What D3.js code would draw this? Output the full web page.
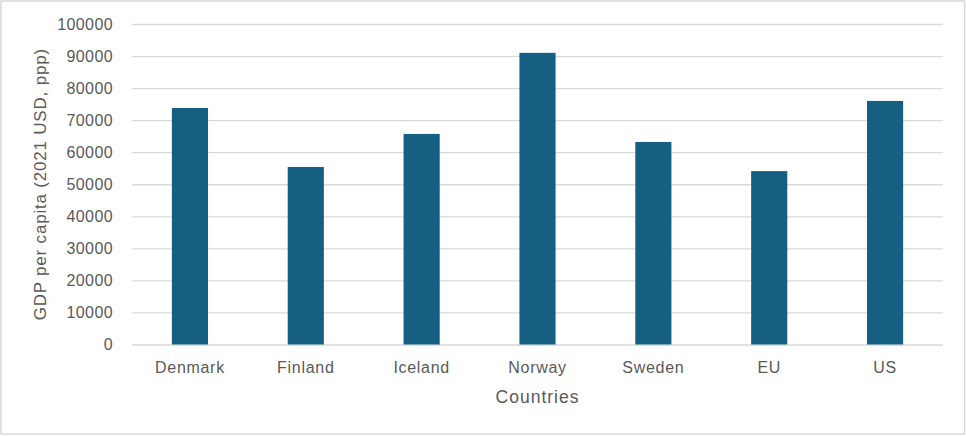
<!DOCTYPE html>
<html>
<head>
<meta charset="utf-8">
<script src="https://cdn.jsdelivr.net/npm/d3@7"></script>
<style>
  html, body { margin: 0; padding: 0; background: #fff; }
  svg { display: block; }
  text { font-family: "Liberation Sans", Arial, sans-serif; fill: #595959; }
</style>
</head>
<body>
<svg id="chart" width="966" height="436"></svg>
<script>
const categories = ["Denmark", "Finland", "Iceland", "Norway", "Sweden", "EU", "US"];
const gdpPerCapita = [73800, 55400, 65700, 91000, 63200, 54100, 76000];
const yTicks = [0, 10000, 20000, 30000, 40000, 50000, 60000, 70000, 80000, 90000, 100000];
const xTitle = "Countries";
const yTitle = "GDP per capita (2021 USD, ppp)";

const W = 966, H = 436;
const m = { left: 132, right: 23, top: 24, bottom: 91.5 };
const svg = d3.select("#chart");

svg.append("rect")
  .attr("x", 1).attr("y", 1).attr("width", W - 2.5).attr("height", H - 3)
  .attr("fill", "#fff").attr("stroke", "#D9D9D9").attr("stroke-width", 1.5);

const x = d3.scaleBand().domain(categories).range([m.left, W - m.right]).padding(0);
const y = d3.scaleLinear().domain([0, 100000]).range([H - m.bottom, m.top]);

// gridlines
const yAxis = d3.axisLeft(y).tickValues(yTicks).tickSize(-(W - m.left - m.right)).tickPadding(19).tickFormat(d3.format("d"));
const gy = svg.append("g").attr("transform", `translate(${m.left},0)`).call(yAxis);
gy.select(".domain").remove();
gy.selectAll(".tick line").attr("stroke", "#D9D9D9").attr("stroke-width", 1.3);
gy.selectAll(".tick text")
  .attr("fill", "#595959").attr("font-size", 16).attr("letter-spacing", 0.4)
  .attr("font-family", "Liberation Sans, Arial, sans-serif");

// bars
const barW = x.bandwidth() * 0.312;
svg.append("g").selectAll("rect").data(categories).join("rect")
  .attr("x", (d) => x(d) + x.bandwidth() / 2 - barW / 2)
  .attr("width", barW)
  .attr("y", (d, i) => y(gdpPerCapita[i]))
  .attr("height", (d, i) => y(0) - y(gdpPerCapita[i]))
  .attr("fill", "#156082");

// x axis labels
const xAxis = d3.axisBottom(x).tickSize(0).tickPadding(17);
const gx = svg.append("g").attr("transform", `translate(0,${y(0)})`).call(xAxis);
gx.select(".domain").remove();
gx.selectAll(".tick text")
  .attr("fill", "#595959").attr("font-size", 16).attr("letter-spacing", 0.7)
  .attr("font-family", "Liberation Sans, Arial, sans-serif");

// axis titles
svg.append("text")
  .attr("x", (m.left + W - m.right) / 2).attr("y", 403)
  .attr("text-anchor", "middle").attr("font-size", 17.5).attr("letter-spacing", 1)
  .text(xTitle);

svg.append("text")
  .attr("transform", `translate(46,${(y(0) + y(100000)) / 2}) rotate(-90)`)
  .attr("text-anchor", "middle").attr("font-size", 17).attr("letter-spacing", 0.8)
  .text(yTitle);
</script>
</body>
</html>
